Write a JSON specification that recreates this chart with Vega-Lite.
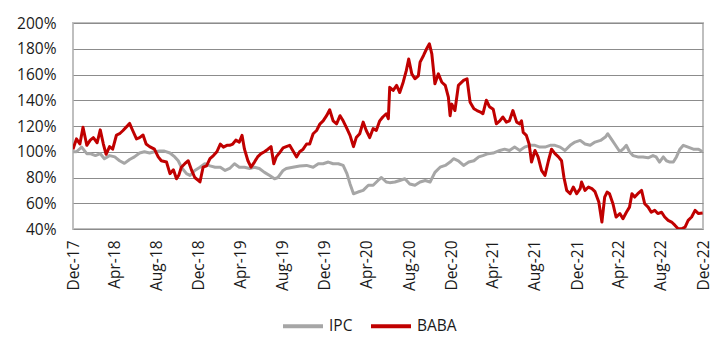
{
  "$schema": "https://vega.github.io/schema/vega-lite/v6.json",
  "width": 630,
  "height": 206,
  "autosize": {"type": "none"},
  "padding": {"left": 73, "top": 23, "right": 24, "bottom": 127},
  "background": "white",
  "config": {
    "font": "Open Sans",
    "view": {"stroke": "#bfbfbf", "strokeWidth": 2},
    "axis": {"labelFont": "Open Sans", "labelFontSize": 15.5, "labelColor": "#1a1a1a"},
    "legend": {"labelFont": "Open Sans", "labelFontSize": 15.5, "labelColor": "#1a1a1a"}
  },
  "data": {
    "values": [
      {"d": "2017-12-01", "s": "IPC", "v": 100},
      {"d": "2017-12-11", "s": "IPC", "v": 100},
      {"d": "2017-12-26", "s": "IPC", "v": 103.6},
      {"d": "2018-01-10", "s": "IPC", "v": 98.5},
      {"d": "2018-01-20", "s": "IPC", "v": 98.5},
      {"d": "2018-02-04", "s": "IPC", "v": 97},
      {"d": "2018-02-18", "s": "IPC", "v": 98.5},
      {"d": "2018-03-02", "s": "IPC", "v": 94.6},
      {"d": "2018-03-17", "s": "IPC", "v": 97},
      {"d": "2018-04-01", "s": "IPC", "v": 96},
      {"d": "2018-04-15", "s": "IPC", "v": 93},
      {"d": "2018-04-29", "s": "IPC", "v": 91},
      {"d": "2018-05-14", "s": "IPC", "v": 94},
      {"d": "2018-05-28", "s": "IPC", "v": 96},
      {"d": "2018-06-12", "s": "IPC", "v": 99},
      {"d": "2018-06-26", "s": "IPC", "v": 100},
      {"d": "2018-07-11", "s": "IPC", "v": 99},
      {"d": "2018-07-25", "s": "IPC", "v": 100},
      {"d": "2018-08-09", "s": "IPC", "v": 100.5},
      {"d": "2018-08-23", "s": "IPC", "v": 100.5},
      {"d": "2018-09-08", "s": "IPC", "v": 99},
      {"d": "2018-09-22", "s": "IPC", "v": 96},
      {"d": "2018-10-02", "s": "IPC", "v": 93},
      {"d": "2018-10-11", "s": "IPC", "v": 88},
      {"d": "2018-10-26", "s": "IPC", "v": 83},
      {"d": "2018-11-05", "s": "IPC", "v": 81.6},
      {"d": "2018-11-19", "s": "IPC", "v": 85.5},
      {"d": "2018-12-04", "s": "IPC", "v": 88},
      {"d": "2018-12-18", "s": "IPC", "v": 90.7},
      {"d": "2019-01-02", "s": "IPC", "v": 89},
      {"d": "2019-01-17", "s": "IPC", "v": 88},
      {"d": "2019-02-01", "s": "IPC", "v": 88},
      {"d": "2019-02-15", "s": "IPC", "v": 85.5},
      {"d": "2019-02-28", "s": "IPC", "v": 87},
      {"d": "2019-03-14", "s": "IPC", "v": 90.7},
      {"d": "2019-03-28", "s": "IPC", "v": 88},
      {"d": "2019-04-12", "s": "IPC", "v": 88},
      {"d": "2019-04-27", "s": "IPC", "v": 87},
      {"d": "2019-05-11", "s": "IPC", "v": 88},
      {"d": "2019-05-25", "s": "IPC", "v": 87},
      {"d": "2019-06-09", "s": "IPC", "v": 84},
      {"d": "2019-06-24", "s": "IPC", "v": 81.6},
      {"d": "2019-07-08", "s": "IPC", "v": 79},
      {"d": "2019-07-18", "s": "IPC", "v": 80},
      {"d": "2019-08-02", "s": "IPC", "v": 85.5},
      {"d": "2019-08-11", "s": "IPC", "v": 87},
      {"d": "2019-08-30", "s": "IPC", "v": 88},
      {"d": "2019-09-19", "s": "IPC", "v": 89},
      {"d": "2019-10-09", "s": "IPC", "v": 89.4},
      {"d": "2019-10-28", "s": "IPC", "v": 88},
      {"d": "2019-11-12", "s": "IPC", "v": 90.7},
      {"d": "2019-11-26", "s": "IPC", "v": 90.7},
      {"d": "2019-12-11", "s": "IPC", "v": 92},
      {"d": "2019-12-25", "s": "IPC", "v": 90.7},
      {"d": "2020-01-09", "s": "IPC", "v": 90.7},
      {"d": "2020-01-23", "s": "IPC", "v": 89.4},
      {"d": "2020-02-03", "s": "IPC", "v": 83},
      {"d": "2020-02-12", "s": "IPC", "v": 75},
      {"d": "2020-02-22", "s": "IPC", "v": 67.4},
      {"d": "2020-03-06", "s": "IPC", "v": 68.7},
      {"d": "2020-03-21", "s": "IPC", "v": 70},
      {"d": "2020-04-05", "s": "IPC", "v": 74},
      {"d": "2020-04-19", "s": "IPC", "v": 74},
      {"d": "2020-05-03", "s": "IPC", "v": 77.7},
      {"d": "2020-05-13", "s": "IPC", "v": 80},
      {"d": "2020-05-27", "s": "IPC", "v": 76.5},
      {"d": "2020-06-06", "s": "IPC", "v": 76},
      {"d": "2020-06-21", "s": "IPC", "v": 76.5},
      {"d": "2020-07-05", "s": "IPC", "v": 77.7},
      {"d": "2020-07-20", "s": "IPC", "v": 79},
      {"d": "2020-08-03", "s": "IPC", "v": 75},
      {"d": "2020-08-18", "s": "IPC", "v": 74},
      {"d": "2020-09-02", "s": "IPC", "v": 76.5},
      {"d": "2020-09-17", "s": "IPC", "v": 77.7},
      {"d": "2020-10-01", "s": "IPC", "v": 76.5},
      {"d": "2020-10-15", "s": "IPC", "v": 84},
      {"d": "2020-10-30", "s": "IPC", "v": 88},
      {"d": "2020-11-14", "s": "IPC", "v": 89.4},
      {"d": "2020-11-28", "s": "IPC", "v": 92},
      {"d": "2020-12-08", "s": "IPC", "v": 94.6},
      {"d": "2020-12-22", "s": "IPC", "v": 93},
      {"d": "2021-01-06", "s": "IPC", "v": 89.4},
      {"d": "2021-01-21", "s": "IPC", "v": 92},
      {"d": "2021-02-05", "s": "IPC", "v": 93},
      {"d": "2021-02-19", "s": "IPC", "v": 96},
      {"d": "2021-03-03", "s": "IPC", "v": 97},
      {"d": "2021-03-18", "s": "IPC", "v": 98.5},
      {"d": "2021-04-02", "s": "IPC", "v": 99},
      {"d": "2021-04-21", "s": "IPC", "v": 101},
      {"d": "2021-05-05", "s": "IPC", "v": 102},
      {"d": "2021-05-19", "s": "IPC", "v": 101},
      {"d": "2021-06-03", "s": "IPC", "v": 103.6},
      {"d": "2021-06-18", "s": "IPC", "v": 101},
      {"d": "2021-07-02", "s": "IPC", "v": 103.6},
      {"d": "2021-07-17", "s": "IPC", "v": 105},
      {"d": "2021-08-01", "s": "IPC", "v": 105},
      {"d": "2021-08-15", "s": "IPC", "v": 103.6},
      {"d": "2021-08-30", "s": "IPC", "v": 103.6},
      {"d": "2021-09-14", "s": "IPC", "v": 105},
      {"d": "2021-09-28", "s": "IPC", "v": 105},
      {"d": "2021-10-13", "s": "IPC", "v": 103.6},
      {"d": "2021-10-27", "s": "IPC", "v": 101},
      {"d": "2021-11-11", "s": "IPC", "v": 105},
      {"d": "2021-11-25", "s": "IPC", "v": 107.5},
      {"d": "2021-12-10", "s": "IPC", "v": 108.8},
      {"d": "2021-12-24", "s": "IPC", "v": 106},
      {"d": "2022-01-08", "s": "IPC", "v": 105},
      {"d": "2022-01-22", "s": "IPC", "v": 107.5},
      {"d": "2022-02-07", "s": "IPC", "v": 108.8},
      {"d": "2022-02-21", "s": "IPC", "v": 111.4},
      {"d": "2022-02-28", "s": "IPC", "v": 114},
      {"d": "2022-03-10", "s": "IPC", "v": 110},
      {"d": "2022-03-20", "s": "IPC", "v": 106},
      {"d": "2022-04-04", "s": "IPC", "v": 100},
      {"d": "2022-04-13", "s": "IPC", "v": 102},
      {"d": "2022-04-23", "s": "IPC", "v": 105},
      {"d": "2022-05-02", "s": "IPC", "v": 100},
      {"d": "2022-05-12", "s": "IPC", "v": 97},
      {"d": "2022-05-26", "s": "IPC", "v": 96},
      {"d": "2022-06-10", "s": "IPC", "v": 96},
      {"d": "2022-06-25", "s": "IPC", "v": 95.3},
      {"d": "2022-07-09", "s": "IPC", "v": 97},
      {"d": "2022-07-18", "s": "IPC", "v": 96},
      {"d": "2022-07-28", "s": "IPC", "v": 92},
      {"d": "2022-08-08", "s": "IPC", "v": 96},
      {"d": "2022-08-17", "s": "IPC", "v": 93},
      {"d": "2022-08-27", "s": "IPC", "v": 92},
      {"d": "2022-09-06", "s": "IPC", "v": 92},
      {"d": "2022-09-15", "s": "IPC", "v": 96},
      {"d": "2022-09-25", "s": "IPC", "v": 102},
      {"d": "2022-10-05", "s": "IPC", "v": 105},
      {"d": "2022-10-19", "s": "IPC", "v": 103.6},
      {"d": "2022-11-03", "s": "IPC", "v": 102},
      {"d": "2022-11-18", "s": "IPC", "v": 102},
      {"d": "2022-11-30", "s": "IPC", "v": 100},
      {"d": "2017-12-01", "s": "BABA", "v": 102},
      {"d": "2017-12-11", "s": "BABA", "v": 110},
      {"d": "2017-12-21", "s": "BABA", "v": 106},
      {"d": "2017-12-30", "s": "BABA", "v": 119},
      {"d": "2018-01-10", "s": "BABA", "v": 105},
      {"d": "2018-01-20", "s": "BABA", "v": 109},
      {"d": "2018-01-29", "s": "BABA", "v": 111},
      {"d": "2018-02-09", "s": "BABA", "v": 107},
      {"d": "2018-02-18", "s": "BABA", "v": 117},
      {"d": "2018-02-27", "s": "BABA", "v": 106},
      {"d": "2018-03-07", "s": "BABA", "v": 98},
      {"d": "2018-03-17", "s": "BABA", "v": 104},
      {"d": "2018-03-26", "s": "BABA", "v": 102},
      {"d": "2018-04-06", "s": "BABA", "v": 113},
      {"d": "2018-04-15", "s": "BABA", "v": 114},
      {"d": "2018-04-25", "s": "BABA", "v": 116.5},
      {"d": "2018-05-09", "s": "BABA", "v": 120.5},
      {"d": "2018-05-14", "s": "BABA", "v": 122},
      {"d": "2018-05-23", "s": "BABA", "v": 116.5},
      {"d": "2018-06-03", "s": "BABA", "v": 110},
      {"d": "2018-06-12", "s": "BABA", "v": 111},
      {"d": "2018-06-22", "s": "BABA", "v": 113},
      {"d": "2018-07-01", "s": "BABA", "v": 106},
      {"d": "2018-07-11", "s": "BABA", "v": 104},
      {"d": "2018-07-25", "s": "BABA", "v": 102},
      {"d": "2018-08-05", "s": "BABA", "v": 96},
      {"d": "2018-08-14", "s": "BABA", "v": 93},
      {"d": "2018-08-29", "s": "BABA", "v": 92},
      {"d": "2018-09-08", "s": "BABA", "v": 83},
      {"d": "2018-09-18", "s": "BABA", "v": 86},
      {"d": "2018-09-27", "s": "BABA", "v": 79},
      {"d": "2018-10-04", "s": "BABA", "v": 82},
      {"d": "2018-10-11", "s": "BABA", "v": 88},
      {"d": "2018-10-21", "s": "BABA", "v": 90.7},
      {"d": "2018-10-31", "s": "BABA", "v": 93},
      {"d": "2018-11-10", "s": "BABA", "v": 85.5},
      {"d": "2018-11-19", "s": "BABA", "v": 80},
      {"d": "2018-11-29", "s": "BABA", "v": 77.7},
      {"d": "2018-12-04", "s": "BABA", "v": 76.5},
      {"d": "2018-12-13", "s": "BABA", "v": 88},
      {"d": "2018-12-23", "s": "BABA", "v": 89},
      {"d": "2019-01-02", "s": "BABA", "v": 94.6},
      {"d": "2019-01-12", "s": "BABA", "v": 97},
      {"d": "2019-01-22", "s": "BABA", "v": 100},
      {"d": "2019-02-01", "s": "BABA", "v": 106},
      {"d": "2019-02-10", "s": "BABA", "v": 103.6},
      {"d": "2019-02-20", "s": "BABA", "v": 105},
      {"d": "2019-02-28", "s": "BABA", "v": 105},
      {"d": "2019-03-09", "s": "BABA", "v": 106},
      {"d": "2019-03-18", "s": "BABA", "v": 109},
      {"d": "2019-03-28", "s": "BABA", "v": 107.5},
      {"d": "2019-04-05", "s": "BABA", "v": 112.7},
      {"d": "2019-04-12", "s": "BABA", "v": 102},
      {"d": "2019-04-22", "s": "BABA", "v": 93},
      {"d": "2019-05-01", "s": "BABA", "v": 88},
      {"d": "2019-05-11", "s": "BABA", "v": 92},
      {"d": "2019-05-20", "s": "BABA", "v": 96},
      {"d": "2019-05-30", "s": "BABA", "v": 98.5},
      {"d": "2019-06-09", "s": "BABA", "v": 100},
      {"d": "2019-06-19", "s": "BABA", "v": 102},
      {"d": "2019-06-28", "s": "BABA", "v": 104},
      {"d": "2019-07-06", "s": "BABA", "v": 90.7},
      {"d": "2019-07-13", "s": "BABA", "v": 96},
      {"d": "2019-07-22", "s": "BABA", "v": 99},
      {"d": "2019-08-02", "s": "BABA", "v": 103},
      {"d": "2019-08-11", "s": "BABA", "v": 104},
      {"d": "2019-08-21", "s": "BABA", "v": 105},
      {"d": "2019-08-30", "s": "BABA", "v": 101},
      {"d": "2019-09-10", "s": "BABA", "v": 96},
      {"d": "2019-09-19", "s": "BABA", "v": 100},
      {"d": "2019-09-29", "s": "BABA", "v": 102},
      {"d": "2019-10-09", "s": "BABA", "v": 106},
      {"d": "2019-10-18", "s": "BABA", "v": 106},
      {"d": "2019-10-28", "s": "BABA", "v": 114},
      {"d": "2019-11-07", "s": "BABA", "v": 116.5},
      {"d": "2019-11-17", "s": "BABA", "v": 121.7},
      {"d": "2019-11-26", "s": "BABA", "v": 124},
      {"d": "2019-12-06", "s": "BABA", "v": 128},
      {"d": "2019-12-15", "s": "BABA", "v": 132.6},
      {"d": "2019-12-25", "s": "BABA", "v": 124},
      {"d": "2020-01-04", "s": "BABA", "v": 121.7},
      {"d": "2020-01-14", "s": "BABA", "v": 128},
      {"d": "2020-01-23", "s": "BABA", "v": 124},
      {"d": "2020-02-03", "s": "BABA", "v": 118},
      {"d": "2020-02-12", "s": "BABA", "v": 112.7},
      {"d": "2020-02-22", "s": "BABA", "v": 104},
      {"d": "2020-03-01", "s": "BABA", "v": 111},
      {"d": "2020-03-11", "s": "BABA", "v": 114},
      {"d": "2020-03-21", "s": "BABA", "v": 123},
      {"d": "2020-03-30", "s": "BABA", "v": 116.5},
      {"d": "2020-04-09", "s": "BABA", "v": 111},
      {"d": "2020-04-19", "s": "BABA", "v": 118},
      {"d": "2020-04-28", "s": "BABA", "v": 116.5},
      {"d": "2020-05-08", "s": "BABA", "v": 124},
      {"d": "2020-05-17", "s": "BABA", "v": 127},
      {"d": "2020-05-27", "s": "BABA", "v": 129.5},
      {"d": "2020-06-02", "s": "BABA", "v": 125.6},
      {"d": "2020-06-06", "s": "BABA", "v": 150},
      {"d": "2020-06-16", "s": "BABA", "v": 147.6},
      {"d": "2020-06-26", "s": "BABA", "v": 151.5},
      {"d": "2020-07-05", "s": "BABA", "v": 146},
      {"d": "2020-07-15", "s": "BABA", "v": 154},
      {"d": "2020-07-24", "s": "BABA", "v": 163},
      {"d": "2020-07-31", "s": "BABA", "v": 172},
      {"d": "2020-08-09", "s": "BABA", "v": 160.5},
      {"d": "2020-08-18", "s": "BABA", "v": 156.7},
      {"d": "2020-08-28", "s": "BABA", "v": 159},
      {"d": "2020-09-02", "s": "BABA", "v": 169.6},
      {"d": "2020-09-12", "s": "BABA", "v": 174.8},
      {"d": "2020-09-21", "s": "BABA", "v": 180},
      {"d": "2020-09-29", "s": "BABA", "v": 183.8},
      {"d": "2020-10-06", "s": "BABA", "v": 176},
      {"d": "2020-10-15", "s": "BABA", "v": 152.8},
      {"d": "2020-10-25", "s": "BABA", "v": 160.5},
      {"d": "2020-11-04", "s": "BABA", "v": 154},
      {"d": "2020-11-14", "s": "BABA", "v": 151.5},
      {"d": "2020-11-23", "s": "BABA", "v": 142.4},
      {"d": "2020-11-28", "s": "BABA", "v": 128},
      {"d": "2020-12-03", "s": "BABA", "v": 137},
      {"d": "2020-12-12", "s": "BABA", "v": 132},
      {"d": "2020-12-22", "s": "BABA", "v": 151.5},
      {"d": "2021-01-06", "s": "BABA", "v": 155.4},
      {"d": "2021-01-16", "s": "BABA", "v": 156.7},
      {"d": "2021-01-25", "s": "BABA", "v": 138.5},
      {"d": "2021-02-05", "s": "BABA", "v": 133.4},
      {"d": "2021-02-14", "s": "BABA", "v": 132},
      {"d": "2021-02-24", "s": "BABA", "v": 130.8},
      {"d": "2021-03-03", "s": "BABA", "v": 129.5},
      {"d": "2021-03-13", "s": "BABA", "v": 140},
      {"d": "2021-03-22", "s": "BABA", "v": 135},
      {"d": "2021-04-02", "s": "BABA", "v": 133},
      {"d": "2021-04-11", "s": "BABA", "v": 121.7},
      {"d": "2021-04-21", "s": "BABA", "v": 124},
      {"d": "2021-04-30", "s": "BABA", "v": 127},
      {"d": "2021-05-10", "s": "BABA", "v": 123},
      {"d": "2021-05-19", "s": "BABA", "v": 124},
      {"d": "2021-05-29", "s": "BABA", "v": 132},
      {"d": "2021-06-09", "s": "BABA", "v": 123},
      {"d": "2021-06-18", "s": "BABA", "v": 121.7},
      {"d": "2021-06-23", "s": "BABA", "v": 124},
      {"d": "2021-06-28", "s": "BABA", "v": 115},
      {"d": "2021-07-07", "s": "BABA", "v": 112.7},
      {"d": "2021-07-15", "s": "BABA", "v": 106},
      {"d": "2021-07-22", "s": "BABA", "v": 92},
      {"d": "2021-08-01", "s": "BABA", "v": 101},
      {"d": "2021-08-10", "s": "BABA", "v": 96},
      {"d": "2021-08-20", "s": "BABA", "v": 85.5},
      {"d": "2021-08-30", "s": "BABA", "v": 81.6},
      {"d": "2021-09-09", "s": "BABA", "v": 93},
      {"d": "2021-09-18", "s": "BABA", "v": 102},
      {"d": "2021-09-28", "s": "BABA", "v": 98.5},
      {"d": "2021-10-08", "s": "BABA", "v": 96},
      {"d": "2021-10-17", "s": "BABA", "v": 93},
      {"d": "2021-10-24", "s": "BABA", "v": 80},
      {"d": "2021-11-01", "s": "BABA", "v": 70},
      {"d": "2021-11-11", "s": "BABA", "v": 67.4},
      {"d": "2021-11-20", "s": "BABA", "v": 72.6},
      {"d": "2021-11-30", "s": "BABA", "v": 67.4},
      {"d": "2021-12-10", "s": "BABA", "v": 71.3},
      {"d": "2021-12-14", "s": "BABA", "v": 76.5},
      {"d": "2021-12-24", "s": "BABA", "v": 70},
      {"d": "2022-01-03", "s": "BABA", "v": 72.6},
      {"d": "2022-01-13", "s": "BABA", "v": 71.3},
      {"d": "2022-01-22", "s": "BABA", "v": 69},
      {"d": "2022-02-02", "s": "BABA", "v": 61},
      {"d": "2022-02-11", "s": "BABA", "v": 45.4},
      {"d": "2022-02-19", "s": "BABA", "v": 64.8},
      {"d": "2022-02-26", "s": "BABA", "v": 68.7},
      {"d": "2022-03-05", "s": "BABA", "v": 67.4},
      {"d": "2022-03-15", "s": "BABA", "v": 59.6},
      {"d": "2022-03-24", "s": "BABA", "v": 49.3},
      {"d": "2022-04-04", "s": "BABA", "v": 52},
      {"d": "2022-04-13", "s": "BABA", "v": 48},
      {"d": "2022-04-23", "s": "BABA", "v": 53},
      {"d": "2022-05-02", "s": "BABA", "v": 57},
      {"d": "2022-05-09", "s": "BABA", "v": 67.4},
      {"d": "2022-05-17", "s": "BABA", "v": 64.8},
      {"d": "2022-05-26", "s": "BABA", "v": 67.4},
      {"d": "2022-06-06", "s": "BABA", "v": 70},
      {"d": "2022-06-15", "s": "BABA", "v": 59.6},
      {"d": "2022-06-25", "s": "BABA", "v": 57},
      {"d": "2022-07-04", "s": "BABA", "v": 53},
      {"d": "2022-07-14", "s": "BABA", "v": 54.5},
      {"d": "2022-07-23", "s": "BABA", "v": 52},
      {"d": "2022-08-03", "s": "BABA", "v": 53},
      {"d": "2022-08-12", "s": "BABA", "v": 49.3},
      {"d": "2022-08-22", "s": "BABA", "v": 46.7},
      {"d": "2022-09-01", "s": "BABA", "v": 45.4},
      {"d": "2022-09-11", "s": "BABA", "v": 42.8},
      {"d": "2022-09-20", "s": "BABA", "v": 40.2},
      {"d": "2022-09-30", "s": "BABA", "v": 40.2},
      {"d": "2022-10-10", "s": "BABA", "v": 41.5},
      {"d": "2022-10-19", "s": "BABA", "v": 46.7},
      {"d": "2022-10-29", "s": "BABA", "v": 49.3},
      {"d": "2022-11-08", "s": "BABA", "v": 54.5},
      {"d": "2022-11-18", "s": "BABA", "v": 52},
      {"d": "2022-11-30", "s": "BABA", "v": 52.4}
    ]
  },
  "mark": {"type": "line", "strokeWidth": 3, "strokeJoin": "round", "clip": true},
  "encoding": {
    "x": {
      "field": "d",
      "type": "temporal",
      "scale": {
        "type": "utc",
        "domain": [{"year": 2017, "month": 12, "date": 1, "utc": true}, {"year": 2022, "month": 12, "date": 1, "utc": true}],
        "nice": false
      },
      "axis": {
        "title": null,
        "labelExpr": "utcFormat(datum.value, '%b-%y')",
        "labelAngle": 270,
        "labelPadding": 11,
        "ticks": false,
        "domain": false,
        "grid": false,
        "labelOverlap": false,
        "labelFlush": false,
        "values": [
          {"year": 2017, "month": 12, "date": 1, "utc": true},
          {"year": 2018, "month": 4, "date": 1, "utc": true},
          {"year": 2018, "month": 8, "date": 1, "utc": true},
          {"year": 2018, "month": 12, "date": 1, "utc": true},
          {"year": 2019, "month": 4, "date": 1, "utc": true},
          {"year": 2019, "month": 8, "date": 1, "utc": true},
          {"year": 2019, "month": 12, "date": 1, "utc": true},
          {"year": 2020, "month": 4, "date": 1, "utc": true},
          {"year": 2020, "month": 8, "date": 1, "utc": true},
          {"year": 2020, "month": 12, "date": 1, "utc": true},
          {"year": 2021, "month": 4, "date": 1, "utc": true},
          {"year": 2021, "month": 8, "date": 1, "utc": true},
          {"year": 2021, "month": 12, "date": 1, "utc": true},
          {"year": 2022, "month": 4, "date": 1, "utc": true},
          {"year": 2022, "month": 8, "date": 1, "utc": true},
          {"year": 2022, "month": 12, "date": 1, "utc": true}
        ]
      }
    },
    "y": {
      "field": "v",
      "type": "quantitative",
      "scale": {"domain": [40, 200], "nice": false, "zero": false},
      "axis": {
        "title": null,
        "values": [40, 60, 80, 100, 120, 140, 160, 180, 200],
        "labelExpr": "datum.value + '%'",
        "labelPadding": 17,
        "ticks": false,
        "domain": false,
        "gridColor": "#8c8c8c",
        "gridWidth": 1
      }
    },
    "color": {
      "field": "s",
      "type": "nominal",
      "sort": ["IPC", "BABA"],
      "scale": {"domain": ["IPC", "BABA"], "range": ["#a6a6a6", "#c00000"]},
      "legend": {
        "title": null,
        "orient": "none",
        "direction": "horizontal",
        "legendX": 208,
        "legendY": 281,
        "padding": 0,
        "symbolType": "stroke",
        "symbolSize": 1600,
        "symbolStrokeWidth": 4,
        "labelOffset": 4,
        "columnPadding": 10
      }
    }
  }
}
